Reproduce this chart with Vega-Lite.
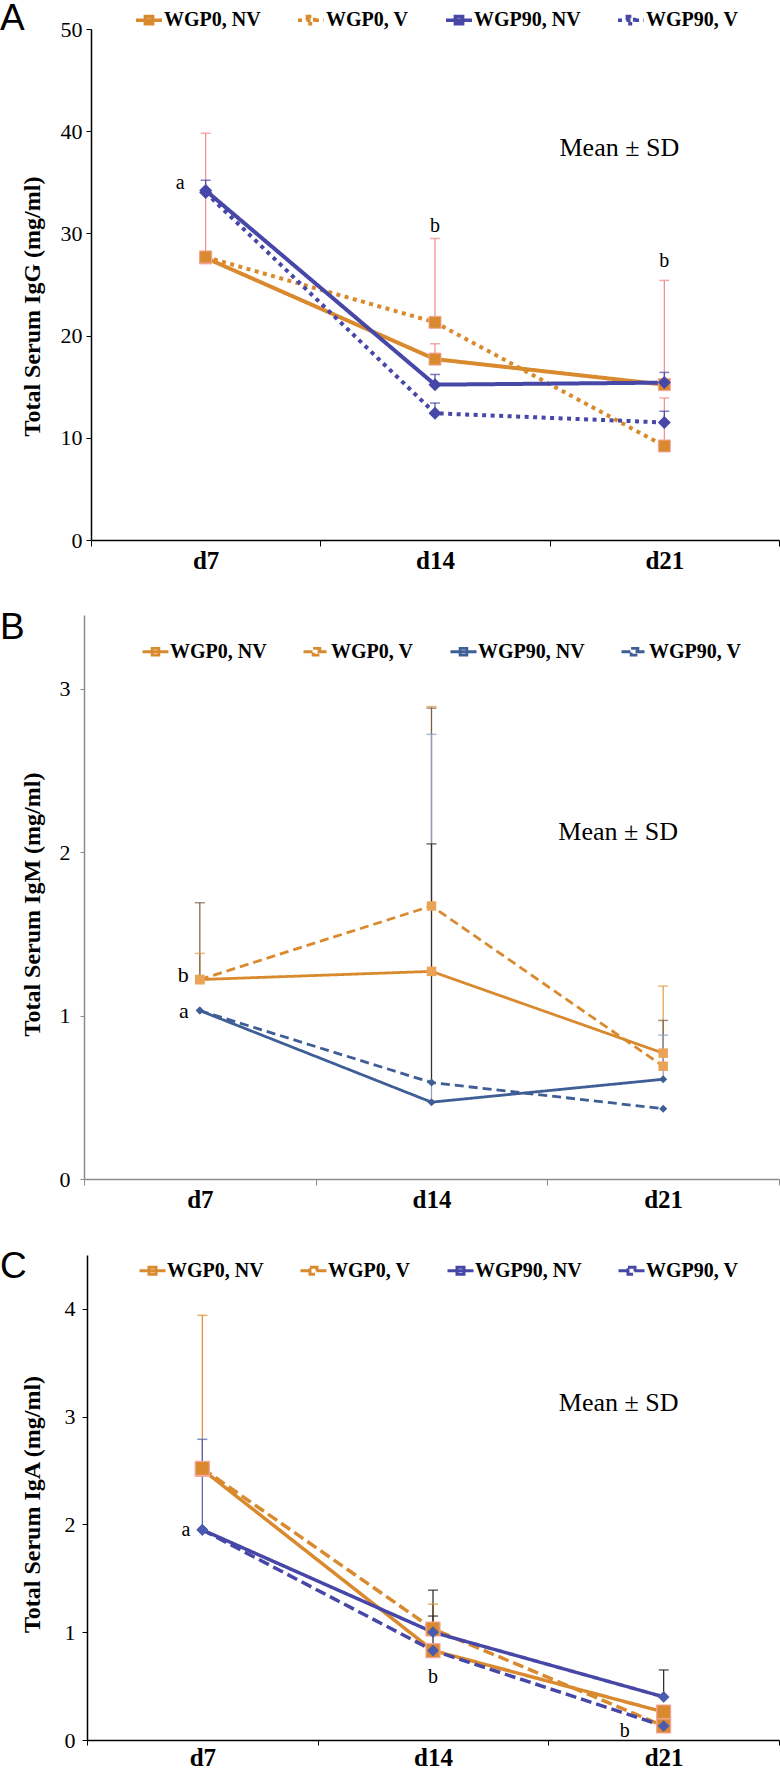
{
  "$schema": "https://vega.github.io/schema/vega-lite/v6.json",
  "padding": {"left": 0, "top": 0, "right": 0, "bottom": 0},
  "autosize": {"type": "pad"},
  "columns": 1,
  "spacing": 36,
  "datasets": {
    "igg": [
      {"day": "d7", "group": "WGP0, NV", "value": 27.6, "upper": 39.8},
      {"day": "d7", "group": "WGP0, V", "value": 27.7, "upper": null},
      {"day": "d7", "group": "WGP90, NV", "value": 34.2, "upper": 35.2},
      {"day": "d7", "group": "WGP90, V", "value": 34.0, "upper": null},
      {"day": "d14", "group": "WGP0, NV", "value": 17.7, "upper": 19.2},
      {"day": "d14", "group": "WGP0, V", "value": 21.3, "upper": 29.5},
      {"day": "d14", "group": "WGP90, NV", "value": 15.2, "upper": 16.2},
      {"day": "d14", "group": "WGP90, V", "value": 12.4, "upper": 13.4},
      {"day": "d21", "group": "WGP0, NV", "value": 15.2, "upper": 25.4},
      {"day": "d21", "group": "WGP0, V", "value": 9.2, "upper": 13.9},
      {"day": "d21", "group": "WGP90, NV", "value": 15.4, "upper": 16.4},
      {"day": "d21", "group": "WGP90, V", "value": 11.5, "upper": 12.6}
    ],
    "igm": [
      {"day": "d7", "group": "WGP0, NV", "value": 1.22, "upper": 1.38},
      {"day": "d7", "group": "WGP0, V", "value": 1.22, "upper": 1.69},
      {"day": "d7", "group": "WGP90, NV", "value": 1.03, "upper": null},
      {"day": "d7", "group": "WGP90, V", "value": 1.03, "upper": null},
      {"day": "d14", "group": "WGP0, NV", "value": 1.27, "upper": 2.89},
      {"day": "d14", "group": "WGP0, V", "value": 1.67, "upper": 2.88},
      {"day": "d14", "group": "WGP90, NV", "value": 0.47, "upper": 2.72},
      {"day": "d14", "group": "WGP90, V", "value": 0.59, "upper": 2.05},
      {"day": "d21", "group": "WGP0, NV", "value": 0.77, "upper": 1.18},
      {"day": "d21", "group": "WGP0, V", "value": 0.69, "upper": 0.97},
      {"day": "d21", "group": "WGP90, NV", "value": 0.61, "upper": 0.88},
      {"day": "d21", "group": "WGP90, V", "value": 0.43, "upper": null}
    ],
    "iga": [
      {"day": "d7", "group": "WGP0, NV", "value": 2.51, "upper": null},
      {"day": "d7", "group": "WGP0, V", "value": 2.52, "upper": 3.94},
      {"day": "d7", "group": "WGP90, NV", "value": 1.95, "upper": null},
      {"day": "d7", "group": "WGP90, V", "value": 1.95, "upper": 2.79},
      {"day": "d14", "group": "WGP0, NV", "value": 0.83, "upper": 1.15},
      {"day": "d14", "group": "WGP0, V", "value": 1.03, "upper": 1.26},
      {"day": "d14", "group": "WGP90, NV", "value": 1.0, "upper": 1.39},
      {"day": "d14", "group": "WGP90, V", "value": 0.83, "upper": null},
      {"day": "d21", "group": "WGP0, NV", "value": 0.26, "upper": null},
      {"day": "d21", "group": "WGP0, V", "value": 0.13, "upper": null},
      {"day": "d21", "group": "WGP90, NV", "value": 0.4, "upper": 0.65},
      {"day": "d21", "group": "WGP90, V", "value": 0.13, "upper": null}
    ],
    "notesA_left": [{"day": "d7", "value": 34.9, "label": "a"}],
    "notesA_top": [{"day": "d14", "value": 30.7, "label": "b"}, {"day": "d21", "value": 27.3, "label": "b"}],
    "meanA": [{"day": "d21", "value": 38.4, "label": "Mean ± SD"}],
    "notesB_left": [{"day": "d7", "value": 1.25, "label": "b"}, {"day": "d7", "value": 1.03, "label": "a"}],
    "meanB": [{"day": "d21", "value": 2.12, "label": "Mean ± SD"}],
    "notesC_left": [{"day": "d7", "value": 1.95, "label": "a"}],
    "notesC_d14": [{"day": "d14", "value": 0.58, "label": "b"}],
    "notesC_d21": [{"day": "d21", "value": 0.08, "label": "b"}],
    "meanC": [{"day": "d21", "value": 3.13, "label": "Mean ± SD"}]
  },
  "concat": [
    {
      "width": 688,
      "height": 511,
      "title": {"text": "A", "dx": -91, "dy": 37},
      "data": {"name": "igg"},
      "encoding": {
        "x": {"field": "day", "type": "nominal", "sort": ["d7", "d14", "d21"], "scale": {"type": "band", "paddingInner": 0, "paddingOuter": 0}, "axis": {"domainColor": "black", "tickColor": "black"}}
      },
      "layer": [
        {
          "mark": {"type": "rule", "strokeWidth": 1.2},
          "transform": [{"filter": "isValid(datum.upper)"}],
          "encoding": {
            "y": {"field": "value", "type": "quantitative", "title": "Total Serum IgG (mg/ml)", "scale": {"domain": [0, 50], "nice": false}, "axis": {"values": [0, 10, 20, 30, 40, 50], "format": "d", "minExtent": 31, "maxExtent": 31, "titlePadding": 16, "labelPadding": 4, "tickSize": 5, "titleY": 277, "domainColor": "black"}},
            "y2": {"field": "upper"},
            "color": {"condition": {"test": "slice(datum.group, 0, 4) == 'WGP0'", "value": "#F08A8A"}, "value": "#4747A8"}
          }
        },
        {
          "mark": {"type": "tick", "size": 10, "thickness": 1.5},
          "transform": [{"filter": "isValid(datum.upper)"}],
          "encoding": {
            "y": {"field": "upper", "type": "quantitative", "title": "Total Serum IgG (mg/ml)"},
            "color": {"condition": {"test": "slice(datum.group, 0, 4) == 'WGP0'", "value": "#F08A8A"}, "value": "#4747A8"}
          }
        },
        {
          "mark": {"type": "line", "strokeWidth": 4},
          "encoding": {
            "y": {"field": "value", "type": "quantitative", "title": "Total Serum IgG (mg/ml)"},
            "color": {"field": "group", "type": "nominal", "scale": {"domain": ["WGP0, NV", "WGP0, V", "WGP90, NV", "WGP90, V"], "range": ["#D98A2E", "#D98A2E", "#4747A8", "#4747A8"]},
              "legend": {"title": null, "orient": "none", "legendX": 43, "legendY": -24, "direction": "horizontal", "columns": 4, "columnPadding": 30, "labelFont": "Liberation Serif", "labelFontSize": 20, "labelFontWeight": "bold", "labelColor": "black", "labelOffset": 0, "symbolSize": 676, "symbolStrokeWidth": 3.5, "padding": 0, "symbolType": "M-1,0H1M-0.28,-0.28H0.28V0.28H-0.28Z"}},
            "strokeDash": {"field": "group", "type": "nominal", "scale": {"domain": ["WGP0, NV", "WGP0, V", "WGP90, NV", "WGP90, V"], "range": [[1, 0], [4, 4.5], [1, 0], [4, 4.5]]},
              "legend": {"title": null, "orient": "none", "legendX": 43, "legendY": -24, "direction": "horizontal", "columns": 4, "columnPadding": 30, "labelFont": "Liberation Serif", "labelFontSize": 20, "labelFontWeight": "bold", "labelColor": "black", "labelOffset": 0, "symbolSize": 676, "symbolStrokeWidth": 3.5, "padding": 0, "symbolType": "M-1,0H1M-0.28,-0.28H0.28V0.28H-0.28Z"}}
          }
        },
        {
          "mark": {"type": "point", "shape": "square", "filled": true, "size": 144, "opacity": 1, "color": "#D98A2E", "stroke": "#F4A7A0", "strokeWidth": 1},
          "transform": [{"filter": "slice(datum.group, 0, 4) == 'WGP0'"}],
          "encoding": {"y": {"field": "value", "type": "quantitative", "title": "Total Serum IgG (mg/ml)"}}
        },
        {
          "mark": {"type": "point", "shape": "diamond", "filled": true, "size": 169, "opacity": 1, "color": "#4747A8"},
          "transform": [{"filter": "slice(datum.group, 0, 4) == 'WGP9'"}],
          "encoding": {"y": {"field": "value", "type": "quantitative", "title": "Total Serum IgG (mg/ml)"}}
        },
        {
          "data": {"name": "notesA_left"},
          "mark": {"type": "text", "align": "right", "dx": -21, "font": "Liberation Serif", "fontSize": 20, "color": "black"},
          "encoding": {"y": {"field": "value", "type": "quantitative", "title": "Total Serum IgG (mg/ml)"}, "text": {"field": "label"}}
        },
        {
          "data": {"name": "notesA_top"},
          "mark": {"type": "text", "align": "center", "font": "Liberation Serif", "fontSize": 20, "color": "black"},
          "encoding": {"y": {"field": "value", "type": "quantitative", "title": "Total Serum IgG (mg/ml)"}, "text": {"field": "label"}}
        },
        {
          "data": {"name": "meanA"},
          "mark": {"type": "text", "align": "center", "dx": -45, "font": "Liberation Serif", "fontSize": 26, "color": "black"},
          "encoding": {"y": {"field": "value", "type": "quantitative", "title": "Total Serum IgG (mg/ml)"}, "text": {"field": "label"}}
        }
      ]
    },
    {
      "width": 688,
      "height": 564,
      "title": {"text": "B", "dx": -91, "dy": 36},
      "data": {"name": "igm"},
      "encoding": {
        "x": {"field": "day", "type": "nominal", "sort": ["d7", "d14", "d21"], "scale": {"type": "band", "paddingInner": 0, "paddingOuter": 0, "range": [-7, 688]}, "axis": {"domainColor": "#8C8C8C", "tickColor": "#8C8C8C"}}
      },
      "layer": [
        {
          "mark": {"type": "rule", "strokeWidth": 1.2},
          "transform": [{"filter": "isValid(datum.upper)"}],
          "encoding": {
            "y": {"field": "value", "type": "quantitative", "title": "Total Serum IgM (mg/ml)", "scale": {"domain": [0, 3.45], "nice": false}, "axis": {"values": [0, 1, 2, 3], "format": "d", "offset": 7, "minExtent": 25, "maxExtent": 25, "titlePadding": 15, "labelPadding": 10, "tickSize": 4, "titleY": 289, "domainColor": "#8C8C8C", "tickColor": "#8C8C8C"}},
            "y2": {"field": "upper"},
            "color": {"condition": [{"test": "datum.group == 'WGP0, NV'", "value": "#E39A4A"}, {"test": "datum.group == 'WGP0, V'", "value": "#7A6048"}, {"test": "datum.group == 'WGP90, NV'", "value": "#8C9DC4"}], "value": "#333333"}
          }
        },
        {
          "mark": {"type": "tick", "size": 10, "thickness": 1.5},
          "transform": [{"filter": "isValid(datum.upper)"}],
          "encoding": {
            "y": {"field": "upper", "type": "quantitative", "title": "Total Serum IgM (mg/ml)"},
            "color": {"condition": [{"test": "datum.group == 'WGP0, NV'", "value": "#E39A4A"}, {"test": "datum.group == 'WGP0, V'", "value": "#7A6048"}, {"test": "datum.group == 'WGP90, NV'", "value": "#8C9DC4"}], "value": "#333333"}
          }
        },
        {
          "mark": {"type": "line", "strokeWidth": 2.8},
          "encoding": {
            "y": {"field": "value", "type": "quantitative", "title": "Total Serum IgM (mg/ml)"},
            "color": {"field": "group", "type": "nominal", "scale": {"domain": ["WGP0, NV", "WGP0, V", "WGP90, NV", "WGP90, V"], "range": ["#D98A2E", "#D98A2E", "#3F5E96", "#3F5E96"]},
              "legend": {"title": null, "orient": "none", "legendX": 50, "legendY": 22, "direction": "horizontal", "columns": 4, "columnPadding": 30, "labelFont": "Liberation Serif", "labelFontSize": 20, "labelFontWeight": "bold", "labelColor": "black", "labelOffset": 0, "symbolSize": 676, "symbolStrokeWidth": 2.8, "padding": 0, "symbolType": "M-1,0H1M-0.26,-0.26H0.26V0.26H-0.26Z"}},
            "strokeDash": {"field": "group", "type": "nominal", "scale": {"domain": ["WGP0, NV", "WGP0, V", "WGP90, NV", "WGP90, V"], "range": [[1, 0], [9, 5], [1, 0], [9, 5]]},
              "legend": {"title": null, "orient": "none", "legendX": 50, "legendY": 22, "direction": "horizontal", "columns": 4, "columnPadding": 30, "labelFont": "Liberation Serif", "labelFontSize": 20, "labelFontWeight": "bold", "labelColor": "black", "labelOffset": 0, "symbolSize": 676, "symbolStrokeWidth": 2.8, "padding": 0, "symbolType": "M-1,0H1M-0.26,-0.26H0.26V0.26H-0.26Z"}}
          }
        },
        {
          "mark": {"type": "point", "shape": "square", "filled": true, "size": 90, "opacity": 1, "color": "#EBA455"},
          "transform": [{"filter": "slice(datum.group, 0, 4) == 'WGP0'"}],
          "encoding": {"y": {"field": "value", "type": "quantitative", "title": "Total Serum IgM (mg/ml)"}}
        },
        {
          "mark": {"type": "point", "shape": "diamond", "filled": true, "size": 64, "opacity": 1, "color": "#3F5E96"},
          "transform": [{"filter": "slice(datum.group, 0, 4) == 'WGP9'"}],
          "encoding": {"y": {"field": "value", "type": "quantitative", "title": "Total Serum IgM (mg/ml)"}}
        },
        {
          "data": {"name": "notesB_left"},
          "mark": {"type": "text", "align": "right", "dx": -11, "font": "Liberation Serif", "fontSize": 22, "color": "black"},
          "encoding": {"y": {"field": "value", "type": "quantitative", "title": "Total Serum IgM (mg/ml)"}, "text": {"field": "label"}}
        },
        {
          "data": {"name": "meanB"},
          "mark": {"type": "text", "align": "center", "dx": -45, "font": "Liberation Serif", "fontSize": 26, "color": "black"},
          "encoding": {"y": {"field": "value", "type": "quantitative", "title": "Total Serum IgM (mg/ml)"}, "text": {"field": "label"}}
        }
      ]
    },
    {
      "width": 688,
      "height": 485,
      "title": {"text": "C", "dx": -91, "dy": 35},
      "data": {"name": "iga"},
      "encoding": {
        "x": {"field": "day", "type": "nominal", "sort": ["d7", "d14", "d21"], "scale": {"type": "band", "paddingInner": 0, "paddingOuter": 0, "range": [-4, 688]}, "axis": {"domainColor": "black", "tickColor": "black", "labelPadding": 0, "tickSize": 5}}
      },
      "layer": [
        {
          "mark": {"type": "rule", "strokeWidth": 1.2},
          "transform": [{"filter": "isValid(datum.upper)"}],
          "encoding": {
            "y": {"field": "value", "type": "quantitative", "title": "Total Serum IgA (mg/ml)", "scale": {"domain": [0, 4.5], "nice": false}, "axis": {"values": [0, 1, 2, 3, 4], "format": "d", "offset": 4, "minExtent": 23, "maxExtent": 23, "titlePadding": 20, "labelPadding": 7, "tickSize": 5, "titleY": 249, "domainColor": "black"}},
            "y2": {"field": "upper"},
            "color": {"condition": [{"test": "datum.group == 'WGP0, V'", "value": "#E08A2E"}, {"test": "datum.group == 'WGP90, V'", "value": "#4F5FB0"}], "value": "#222222"}
          }
        },
        {
          "mark": {"type": "tick", "size": 10, "thickness": 1.5},
          "transform": [{"filter": "isValid(datum.upper)"}],
          "encoding": {
            "y": {"field": "upper", "type": "quantitative", "title": "Total Serum IgA (mg/ml)"},
            "color": {"condition": [{"test": "datum.group == 'WGP0, V'", "value": "#E08A2E"}, {"test": "datum.group == 'WGP90, V'", "value": "#4F5FB0"}], "value": "#222222"}
          }
        },
        {
          "mark": {"type": "line", "strokeWidth": 3.5},
          "encoding": {
            "y": {"field": "value", "type": "quantitative", "title": "Total Serum IgA (mg/ml)"},
            "color": {"field": "group", "type": "nominal", "scale": {"domain": ["WGP0, NV", "WGP0, V", "WGP90, NV", "WGP90, V"], "range": ["#D98A2E", "#D98A2E", "#4747A8", "#4747A8"]},
              "legend": {"title": null, "orient": "none", "legendX": 47, "legendY": 1, "direction": "horizontal", "columns": 4, "columnPadding": 30, "labelFont": "Liberation Serif", "labelFontSize": 20, "labelFontWeight": "bold", "labelColor": "black", "labelOffset": 0, "symbolSize": 676, "symbolStrokeWidth": 3, "padding": 0, "symbolType": "M-1,0H1M-0.27,-0.27H0.27V0.27H-0.27Z"}},
            "strokeDash": {"field": "group", "type": "nominal", "scale": {"domain": ["WGP0, NV", "WGP0, V", "WGP90, NV", "WGP90, V"], "range": [[1, 0], [11, 5], [1, 0], [11, 5]]},
              "legend": {"title": null, "orient": "none", "legendX": 47, "legendY": 1, "direction": "horizontal", "columns": 4, "columnPadding": 30, "labelFont": "Liberation Serif", "labelFontSize": 20, "labelFontWeight": "bold", "labelColor": "black", "labelOffset": 0, "symbolSize": 676, "symbolStrokeWidth": 3, "padding": 0, "symbolType": "M-1,0H1M-0.27,-0.27H0.27V0.27H-0.27Z"}}
          }
        },
        {
          "mark": {"type": "point", "shape": "square", "filled": true, "size": 196, "opacity": 1, "color": "#D98A2E", "stroke": "#F4A7A0", "strokeWidth": 1.2},
          "transform": [{"filter": "slice(datum.group, 0, 4) == 'WGP0'"}],
          "encoding": {"y": {"field": "value", "type": "quantitative", "title": "Total Serum IgA (mg/ml)"}}
        },
        {
          "mark": {"type": "point", "shape": "diamond", "filled": true, "size": 137, "opacity": 1, "color": "#4A5AAE"},
          "transform": [{"filter": "slice(datum.group, 0, 4) == 'WGP9'"}],
          "encoding": {"y": {"field": "value", "type": "quantitative", "title": "Total Serum IgA (mg/ml)"}}
        },
        {
          "data": {"name": "notesC_left"},
          "mark": {"type": "text", "align": "right", "dx": -12, "font": "Liberation Serif", "fontSize": 20, "color": "black"},
          "encoding": {"y": {"field": "value", "type": "quantitative", "title": "Total Serum IgA (mg/ml)"}, "text": {"field": "label"}}
        },
        {
          "data": {"name": "notesC_d14"},
          "mark": {"type": "text", "align": "center", "font": "Liberation Serif", "fontSize": 20, "color": "black"},
          "encoding": {"y": {"field": "value", "type": "quantitative", "title": "Total Serum IgA (mg/ml)"}, "text": {"field": "label"}}
        },
        {
          "data": {"name": "notesC_d21"},
          "mark": {"type": "text", "align": "center", "dx": -39, "font": "Liberation Serif", "fontSize": 20, "color": "black"},
          "encoding": {"y": {"field": "value", "type": "quantitative", "title": "Total Serum IgA (mg/ml)"}, "text": {"field": "label"}}
        },
        {
          "data": {"name": "meanC"},
          "mark": {"type": "text", "align": "center", "dx": -45, "font": "Liberation Serif", "fontSize": 26, "color": "black"},
          "encoding": {"y": {"field": "value", "type": "quantitative", "title": "Total Serum IgA (mg/ml)"}, "text": {"field": "label"}}
        }
      ]
    }
  ],
  "resolve": {
    "scale": {"x": "independent", "y": "independent", "color": "independent", "strokeDash": "independent"},
    "legend": {"color": "independent", "strokeDash": "independent"},
    "axis": {"x": "independent", "y": "independent"}
  },
  "config": {
    "view": {"stroke": null},
    "axis": {"grid": false, "labelFont": "Liberation Serif", "titleFont": "Liberation Serif", "labelColor": "black", "titleColor": "black", "domainColor": "black", "tickColor": "black"},
    "axisX": {"title": null, "labelAngle": 0, "labelFontSize": 25, "labelFontWeight": "bold", "tickBand": "extent", "tickSize": 6, "labelPadding": 2, "domainWidth": 1.5},
    "axisY": {"labelFontSize": 22, "titleFontSize": 24, "titleFontWeight": "bold", "domainWidth": 1.5},
    "title": {"anchor": "start", "frame": "group", "orient": "top", "offset": 0, "font": "Liberation Sans", "fontSize": 37, "fontWeight": "normal", "color": "black", "baseline": "alphabetic"}
  }
}
